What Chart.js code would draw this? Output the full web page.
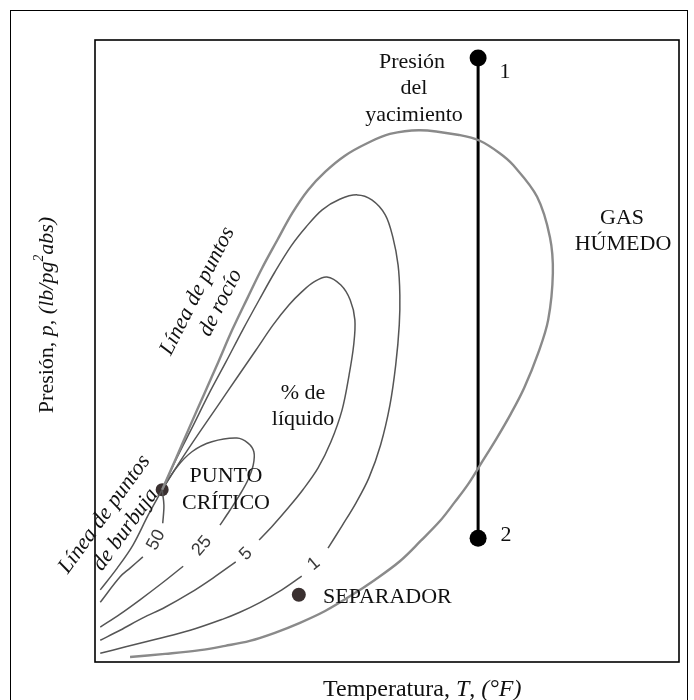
<!DOCTYPE html>
<html>
<head>
<meta charset="utf-8">
<script src="https://cdn.jsdelivr.net/npm/chart.js@4.4.1/dist/chart.umd.min.js"></script>
<style>
html, body { margin: 0; padding: 0; background: #fff; }
canvas { display: block; }
</style>
</head>
<body>
<canvas id="diagrama" width="694" height="700"></canvas>
<script>
// Envolvente: línea de puntos de rocío (0 % de líquido)
const envolventeT = [11.5, 13.9, 16.3, 18.7, 21.1, 23.5, 26.1, 28.6, 31.2, 33.8, 36.5, 39.4, 42.8, 46.6, 50.5, 55.7, 62.5, 65.9, 69.3, 71.6, 75.7, 77.9, 78.4, 77.6, 75.9, 73.5, 71.2, 68.8, 66.3, 63.9, 61.6, 59.1, 55.8, 52.2, 47.9, 43.7, 39.4, 35.1, 30.8, 26.5, 22.3, 18.0, 12.0, 6.0];
const envolventeP = [27.7, 32.8, 38.0, 43.1, 48.2, 53.4, 58.5, 63.3, 67.8, 72.2, 75.9, 78.8, 81.4, 83.4, 84.9, 85.5, 84.7, 83.8, 81.8, 79.9, 74.8, 68.3, 62.5, 55.0, 49.7, 44.1, 39.9, 36.0, 32.2, 28.6, 25.7, 22.7, 19.5, 16.2, 13.2, 10.6, 8.2, 6.3, 4.7, 3.4, 2.6, 1.9, 1.3, 0.8];
// Curvas de calidad (% de líquido), null = hueco para la etiqueta
const liq1T = [11.5, 14.0, 16.8, 19.5, 22.4, 25.3, 28.1, 30.8, 33.6, 36.1, 38.9, 41.9, 44.9, 47.4, 49.7, 51.0, 51.9, 52.2, 52.1, 51.5, 50.5, 48.9, 46.9, 44.7, 42.3, 39.9, null, 35.4, 32.0, 28.3, 24.8, 21.9, 16.3, 10.6, 5.1, 0.9];
const liq1P = [27.7, 32.8, 38.0, 43.1, 48.2, 53.4, 58.2, 62.7, 66.9, 69.9, 72.7, 74.4, 75.1, 74.3, 71.9, 68.3, 63.8, 59.0, 54.2, 47.8, 41.3, 34.9, 29.6, 25.6, 21.9, 18.3, null, 13.8, 11.6, 9.6, 8.0, 6.9, 5.1, 3.7, 2.4, 1.4];
const liq5T = [11.5, 14.6, 17.8, 21.1, 24.3, 27.6, 30.5, 33.2, 35.4, 37.5, 39.7, 42.1, 43.7, 44.5, 44.3, 43.5, 42.3, 40.4, 38.2, 35.6, 33.1, 30.5, 28.1, null, 24.1, 20.2, 16.3, 12.0, 8.2, 4.3, 0.9];
const liq5P = [27.7, 32.3, 36.8, 41.3, 45.7, 50.2, 54.2, 57.4, 59.5, 61.1, 61.9, 60.6, 58.2, 55.0, 51.0, 46.1, 40.5, 35.4, 31.2, 27.7, 24.8, 22.0, 19.6, null, 16.1, 13.5, 11.1, 8.8, 7.1, 5.1, 3.5];
const liq25T = [11.5, 13.9, 16.6, 20.0, 24.3, 26.2, 27.2, 27.1, 26.2, 24.8, 23.1, 21.4, null, 15.1, 11.5, 7.7, 4.3, 0.9];
const liq25P = [27.7, 31.2, 33.8, 35.4, 36.0, 35.2, 33.8, 31.7, 29.3, 26.9, 24.4, 22.0, null, 15.4, 12.7, 10.0, 7.7, 5.6];
const liq50T = [11.5, 11.8, 11.6, null, 8.2, 6.0, 4.3, 0.9];
const liq50P = [27.7, 25.2, 22.3, null, 16.9, 15.1, 13.7, 9.6];
// Línea de puntos de burbuja (100 % de líquido)
const burbujaT = [11.5, 9.1, 6.5, 3.8, 0.9];
const burbujaP = [27.7, 23.6, 18.8, 15.1, 11.6];
// Trayectoria del yacimiento (1 -> 2), punto crítico y separador
const yacimientoT = [65.6, 65.6];
const yacimientoP = [97.1, 19.9];
const criticoT = [11.5];
const criticoP = [27.7];
const separadorT = [34.9];
const separadorP = [10.8];
const etiquetasCurvas = ['50', '25', '5', '1'];

function puntos(T, P) {
    return T.map((t, i) => ({ x: t, y: P[i] }));
}

function curva(T, P, color, ancho) {
    return {
        data: puntos(T, P),
        showLine: true,
        borderColor: color,
        borderWidth: ancho,
        tension: 0.35,
        pointRadius: 0,
        spanGaps: false,
        fill: false
    };
}

const serif = '"Liberation Serif", "DejaVu Serif", serif';

// texto con partes en cursiva / superíndice, empezando en x (o centrado)
function textoMixto(ctx, partes, x, y, size, centrado) {
    let total = 0;
    partes.forEach(p => {
        ctx.font = (p.it ? 'italic ' : '') + (p.sup ? size * 0.62 : size) + 'px ' + serif;
        p.w = ctx.measureText(p.t).width;
        total += p.w;
    });
    let cx = centrado ? x - total / 2 : x;
    partes.forEach(p => {
        ctx.font = (p.it ? 'italic ' : '') + (p.sup ? size * 0.62 : size) + 'px ' + serif;
        ctx.textAlign = 'left';
        ctx.fillText(p.t, cx, p.sup ? y - size * 0.35 : y);
        cx += p.w;
    });
}

function textoRotado(ctx, lineas, x, y, ang, size, italic, interlinea) {
    ctx.save();
    ctx.translate(x, y);
    ctx.rotate(ang * Math.PI / 180);
    ctx.font = (italic ? 'italic ' : '') + size + 'px ' + serif;
    ctx.textAlign = 'center';
    const n = lineas.length;
    lineas.forEach((l, i) => ctx.fillText(l, 0, (i - (n - 1) / 2) * interlinea));
    ctx.restore();
}

const anotaciones = {
    id: 'anotaciones',
    beforeDraw(chart) {
        const ctx = chart.ctx;
        ctx.save();
        ctx.fillStyle = '#fff';
        ctx.fillRect(0, 0, chart.width, chart.height);
        ctx.restore();
    },
    afterDraw(chart) {
        const ctx = chart.ctx;
        const a = chart.chartArea;
        ctx.save();
        // marcos
        ctx.strokeStyle = '#000';
        ctx.lineWidth = 1;
        ctx.strokeRect(10.5, 10.5, 677, 720);
        ctx.lineWidth = 1.6;
        ctx.strokeRect(a.left, a.top, a.right - a.left, a.bottom - a.top);

        ctx.fillStyle = '#111';
        ctx.textBaseline = 'middle';
        ctx.textAlign = 'center';
        ctx.font = '22px ' + serif;
        ctx.fillText('Presión', 412, 62);
        ctx.fillText('del', 414, 88);
        ctx.fillText('yacimiento', 414, 115);
        ctx.fillText('1', 505, 72);
        ctx.fillText('2', 506, 535);
        ctx.fillText('GAS', 622, 218);
        ctx.fillText('HÚMEDO', 623, 244);
        ctx.fillText('% de', 303, 393);
        ctx.fillText('líquido', 303, 419);
        ctx.fillText('PUNTO', 226, 476);
        ctx.fillText('CRÍTICO', 226, 503);
        ctx.textAlign = 'left';
        ctx.fillText('SEPARADOR', 323, 597);

        textoRotado(ctx, ['Línea de puntos', 'de rocío'], 209, 297, -63, 22, true, 26);
        textoRotado(ctx, ['Línea de puntos', 'de burbuja'], 115, 522, -54, 22, true, 26);

        // etiquetas de las curvas de % de líquido
        ctx.fillStyle = '#3a3a3a';
        const sans = '"Liberation Sans", Arial, sans-serif';
        const posEtiquetas = [[156, 540, -62], [202, 546, -50], [246, 554, -45], [314, 564, -40]];
        etiquetasCurvas.forEach((e, i) => {
            ctx.save();
            ctx.translate(posEtiquetas[i][0], posEtiquetas[i][1]);
            ctx.rotate(posEtiquetas[i][2] * Math.PI / 180);
            ctx.font = '18px ' + sans;
            ctx.textAlign = 'center';
            ctx.fillText(e, 0, 0);
            ctx.restore();
        });

        // títulos de ejes
        ctx.fillStyle = '#111';
        textoMixto(ctx, [
            { t: 'Temperatura, ' }, { t: 'T', it: true }, { t: ', ' }, { t: '(°F)', it: true }
        ], 323, 690, 24, false);
        ctx.save();
        ctx.translate(47, 315);
        ctx.rotate(-Math.PI / 2);
        textoMixto(ctx, [
            { t: 'Presión, ' }, { t: 'p, (lb/pg', it: true }, { t: '2', it: true, sup: true }, { t: 'abs)', it: true }
        ], 0, 0, 22, true);
        ctx.restore();
        ctx.restore();
    }
};

new Chart(document.getElementById('diagrama').getContext('2d'), {
    type: 'scatter',
    data: {
        datasets: [
            curva(envolventeT, envolventeP, '#8a8a8a', 2.4),
            curva(liq1T, liq1P, '#555', 1.5),
            curva(liq5T, liq5P, '#555', 1.5),
            curva(liq25T, liq25P, '#555', 1.5),
            curva(liq50T, liq50P, '#555', 1.5),
            curva(burbujaT, burbujaP, '#555', 1.5),
            {
                data: puntos(yacimientoT, yacimientoP),
                showLine: true,
                borderColor: '#000',
                borderWidth: 3,
                pointRadius: 8.5,
                pointBackgroundColor: '#000',
                pointBorderWidth: 0
            },
            {
                data: puntos(criticoT, criticoP),
                pointRadius: 6.5,
                pointBackgroundColor: '#3a3030',
                pointBorderWidth: 0
            },
            {
                data: puntos(separadorT, separadorP),
                pointRadius: 7,
                pointBackgroundColor: '#3a3030',
                pointBorderWidth: 0
            }
        ]
    },
    options: {
        responsive: false,
        animation: false,
        layout: { padding: { left: 95, right: 15, top: 40, bottom: 38 } },
        plugins: { legend: { display: false }, tooltip: { enabled: false } },
        scales: {
            x: { type: 'linear', min: 0, max: 100, display: false },
            y: { type: 'linear', min: 0, max: 100, display: false }
        }
    },
    plugins: [anotaciones]
});
</script>
</body>
</html>
